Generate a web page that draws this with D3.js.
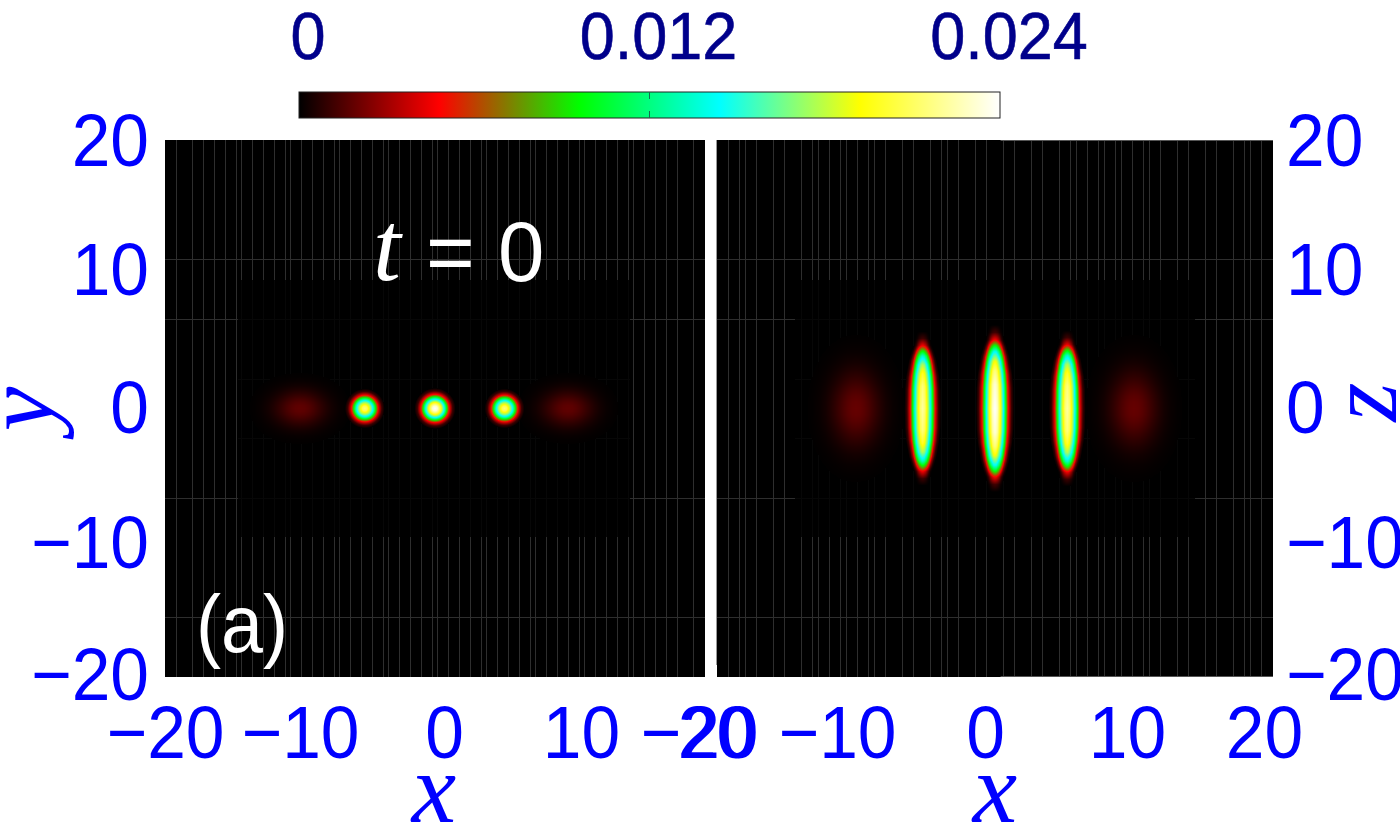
<!DOCTYPE html>
<html><head><meta charset="utf-8">
<script src="https://cdn.jsdelivr.net/npm/d3@7/dist/d3.min.js"></script>
<style>html,body{margin:0;padding:0;background:#fff;overflow:hidden}svg{display:block}</style>
</head><body><svg id="c" width="1400" height="839" font-family="'Liberation Sans',Arial,sans-serif"></svg>
<script>
// colour bar
const colorDomain = [0, 0.0048, 0.0096, 0.0144, 0.0192, 0.024];
const colorRange = ["#000000", "#ff0000", "#00ff00", "#00ffff", "#ffff00", "#ffffff"];
const colorTicks = [0, 0.012, 0.024];
const colorTickLabels = ["0", "0.012", "0.024"];
// axes
const axisTicks = [-20, -10, 0, 10, 20];
// density, x-y plane
const spotXa = [-10, -5.2, 0, 5.15, 9.85];
const spotAmpA = [0.0018, 0.0215, 0.024, 0.0215, 0.0018];
const spotSxA = [1.3, 0.6, 0.62, 0.6, 1.3];
const spotSyA = [0.92, 0.6, 0.62, 0.6, 0.92];
const spotCoreA = [false, true, true, true, false];
// density read from the x-z plane
const spotXb = [-10, -5.2, 0, 5.2, 10];
const spotAmpB = [0.0019, 0.0222, 0.024, 0.0222, 0.0019];
const spotSxB = [1.2, 0.54, 0.56, 0.54, 1.2];
const spotSzB = [1.9, 4.7, 5.1, 4.75, 1.9];
const spotCoreB = [false, true, true, true, false];
// relative density against distance (in widths)
const roundDist = [0, 0.25, 0.5, 0.75, 1, 1.25, 1.5, 1.8, 2.2, 2.6, 3.1];
const roundRel = [1, 0.97, 0.88, 0.75, 0.6, 0.46, 0.33, 0.2, 0.09, 0.035, 0];
const coreDist = [0, 0.3, 0.74, 1.1, 1.4, 1.7, 2.1, 2.45];
const coreRel = [1, 0.96, 0.8, 0.6, 0.4, 0.2, 0.05, 0];
const flatDist = [0, 0.35, 0.55, 0.69, 0.83, 0.92, 1, 1.11, 1.22];
const flatRel = [1, 0.97, 0.9, 0.8, 0.6, 0.4, 0.2, 0.05, 0];
// how the spots narrow along z
const taperDist = [0, 0.3, 0.5, 0.76, 0.9, 1, 1.25];
const taperRel = [1, 0.98, 0.92, 0.76, 0.62, 0.5, 0.35];
// faint rendering seams
const seamXa = [-19.19,-18,-17.19,-16.37,-15.56,-14.74,-14.37,-13.56,-12.74,-11.93,-11.11,-10.74,-9.93,-9.11,-8.3,-7.48,-7.11,-6.3,-5.48,-4.67,-3.85,-3.48,-2.67,-1.85,-1.04,-0.22,0.15,0.96,1.78,2.59,3.41,3.78,4.59,5.41,6.22,7.04,7.41,8.22,9.04,9.85,10.67,11.04,11.85,12.67,13.48,14.3,14.67,15.48,16.3,17.11,17.93,19.11];
const seamXb = [-19.21,-18.42,-17.99,-17.19,-15.97,-15.18,-13.96,-13.17,-12.73,-11.94,-11.15,-10.72,-9.93,-9.14,-8.71,-7.91,-6.69,-5.9,-4.68,-3.88,-3.45,-2.66,-1.44,-0.65,0.58,1.37,2.59,3.38,4.6,5.4,5.83,6.62,7.41,7.84,8.63,9.06,9.86,10.65,11.08,11.87,13.09,13.88,15.11,15.9,17.12,17.91,18.35,19.14];
const seamY = [11.13, 6.66, 2.2, -2.2, -6.66, -15.53];
const innerA = [-14.6, 14.44, -9.57, 9.57];
const innerB = [-14.39, 14.39, -9.57, 9.57];

const svg = d3.select("#c");
const BLUE = "#0000ff", NAVY = "#00008b", SX = 0.94;
const color = d3.scaleLinear().domain(colorDomain).range(colorRange).clamp(true);
const round = d3.scaleLinear().domain(roundDist).range(roundRel).clamp(true);
const core = d3.scaleLinear().domain(coreDist).range(coreRel).clamp(true);
const flat = d3.scaleLinear().domain(flatDist).range(flatRel).clamp(true);
const taper = d3.scaleLinear().domain(taperDist).range(taperRel).clamp(true);

const xA = d3.scaleLinear().domain([-20, 20]).range([165, 705]);
const xB = d3.scaleLinear().domain([-20, 20]).range([717, 1273]);
const yS = d3.scaleLinear().domain([-20, 20]).range([677, 140]);

const defs = svg.append("defs");

function panel(id, x, seams, inner, field) {
  const g = svg.append("g");
  const [x0, x1] = x.range(), [y0, y1] = [yS(20), yS(-20)];
  g.append("rect").attr("x", x0).attr("y", y0).attr("width", x1 - x0).attr("height", y1 - y0).attr("fill", "#000");
  const lines = (sel, col) => {
    sel.selectAll("line.v").data(seams).join("line").attr("class", "v")
      .attr("x1", d => Math.round(x(d)) + .5).attr("x2", d => Math.round(x(d)) + .5)
      .attr("y1", y0).attr("y2", y1).attr("stroke", col);
    sel.selectAll("line.h").data(seamY).join("line").attr("class", "h")
      .attr("y1", d => Math.round(yS(d)) + .5).attr("y2", d => Math.round(yS(d)) + .5)
      .attr("x1", x0).attr("x2", x1).attr("stroke", col);
  };
  const outer = g.append("g");
  lines(outer, "#2e2e2e");
  outer.selectAll("line.h").filter(d => Math.abs(d) < 3).remove();
  const ix0 = x(inner[0]), ix1 = x(inner[1]), iy0 = yS(inner[3]), iy1 = yS(inner[2]);
  g.append("rect").attr("x", ix0).attr("y", iy0).attr("width", ix1 - ix0).attr("height", iy1 - iy0).attr("fill", "#000");
  defs.append("clipPath").attr("id", id).append("rect").attr("x", ix0).attr("y", iy0).attr("width", ix1 - ix0).attr("height", iy1 - iy0);
  lines(g.append("g").attr("clip-path", `url(#${id})`), "#070707");

  // density field
  const w = x1 - x0, h = y1 - y0;
  const cv = document.createElement("canvas"); cv.width = w; cv.height = h;
  const ctx = cv.getContext("2d"), img = ctx.createImageData(w, h);
  for (let j = 0; j < h; j++) {
    const yv = yS.invert(y0 + j + .5);
    for (let i = 0; i < w; i++) {
      const v = field(x.invert(x0 + i + .5), yv);
      if (v < 0.00003) continue;
      const c = d3.rgb(color(v)), k = (j * w + i) * 4;
      img.data[k] = c.r; img.data[k + 1] = c.g; img.data[k + 2] = c.b; img.data[k + 3] = 255;
    }
  }
  ctx.putImageData(img, 0, 0);
  g.append("image").attr("x", x0).attr("y", y0).attr("width", w).attr("height", h).attr("href", cv.toDataURL());
}

panel("innerA", xA, seamXa, innerA, (x, y) => {
  let v = 0;
  spotXa.forEach((c, i) => {
    const dx = (x - c) / spotSxA[i], dy = y / spotSyA[i];
    v += spotCoreA[i]
      ? spotAmpA[i] * core(Math.hypot(dx, dy))
      : spotAmpA[i] * round(Math.abs(dx)) * round(Math.abs(dy));
  });
  return v;
});
panel("innerB", xB, seamXb, innerB, (x, z) => {
  let v = 0;
  spotXb.forEach((c, i) => {
    const t = Math.abs(z) / spotSzB[i];
    v += spotCoreB[i]
      ? spotAmpB[i] * core(Math.abs(x - c) / (spotSxB[i] * taper(t))) * flat(t)
      : spotAmpB[i] * round(Math.abs(x - c) / spotSxB[i]) * round(t);
  });
  return v;
});

// panel edges
svg.append("line").attr("x1", 716.5).attr("x2", 716.5).attr("y1", 140).attr("y2", 665).attr("stroke", "#999");
svg.append("line").attr("x1", xB(0.4)).attr("x2", 1273).attr("y1", 140.5).attr("y2", 140.5).attr("stroke", "#555");
svg.append("line").attr("x1", xB(0.4)).attr("x2", 1273).attr("y1", 676.5).attr("y2", 676.5).attr("stroke", "#555");

// text helper: the reference face is slightly condensed
function stretch(sel, x, y) {
  sel.attr("x", null).attr("y", null).attr("dy", null).attr("transform", `translate(${x},${y}) scale(${SX},1)`);
}
const fmt = d => d < 0 ? "\u2212" + Math.abs(d) : String(d);

function xAxis(x, nudge) {
  const g = svg.append("g").attr("transform", "translate(0,677)")
    .call(d3.axisBottom(x).tickValues(axisTicks).tickSize(0).tickFormat(fmt));
  g.attr("font-family", "'Liberation Sans'").attr("font-size", 74);
  g.select(".domain").remove();
  g.selectAll("text").attr("fill", BLUE)
    .attr("text-anchor", "middle").each(function (d, i) { stretch(d3.select(this), nudge[i], 81); });
}
xAxis(xA, [0, 0, 9, 11, 11]);
xAxis(xB, [-18, -19, -10, -7, -9]);

function yAxis(side, x0, anchor, labelX, nudge) {
  const g = svg.append("g").attr("transform", `translate(${x0},0)`)
    .call(side(yS).tickValues(axisTicks).tickSize(0).tickFormat(fmt));
  g.attr("font-family", "'Liberation Sans'").attr("font-size", 74);
  g.select(".domain").remove();
  g.selectAll("text").attr("fill", BLUE)
    .attr("text-anchor", anchor).each(function (d, i) { stretch(d3.select(this), labelX, nudge[i] + 26); });
}
yAxis(d3.axisLeft, 165, "end", -16, [-4, -1, -2, -6, -1]);
yAxis(d3.axisRight, 1273, "start", 13, [-4, -1, -2, -6, -1]);

// colour bar
const cbar = d3.scaleLinear().domain([0, 0.024]).range([299, 1000]);
const grad = defs.append("linearGradient").attr("id", "cb");
colorDomain.forEach((d, i) => grad.append("stop").attr("offset", d / 0.024).attr("stop-color", colorRange[i]));
svg.append("rect").attr("x", cbar(0)).attr("y", 92).attr("width", cbar(0.024) - cbar(0)).attr("height", 26)
  .attr("fill", "url(#cb)").attr("stroke", "#222").attr("stroke-width", 1);
svg.append("g").selectAll("line").data([[92, 99], [111, 118]]).join("line")
  .attr("x1", cbar(0.012)).attr("x2", cbar(0.012)).attr("y1", d => d[0]).attr("y2", d => d[1])
  .attr("stroke", "#146c50").attr("stroke-width", 1);
svg.append("g").selectAll("text").data(colorTicks).join("text")
  .text((d, i) => colorTickLabels[i]).attr("font-size", 67).attr("fill", NAVY).attr("text-anchor", "middle")
  .attr("stroke", NAVY).attr("stroke-width", .6)
  .attr("transform", d => `translate(${cbar(d) + 9},59) scale(${SX},1)`);

// axis titles
const serif = "'Liberation Serif'";
function title(t, x, y, rot, col) {
  svg.append("text").text(t).attr("font-family", serif).attr("font-style", "italic").attr("font-size", 100)
    .attr("fill", col).attr("text-anchor", "middle").attr("transform", `translate(${x},${y}) rotate(${rot})`);
}
title("x", 434, 822, 0, BLUE);
title("x", 995, 822, 0, BLUE);
title("y", 53, 409, -90, BLUE);
title("z", 1396, 402, -90, BLUE);

// annotations
title("t", 387, 280, 0, "#fff");
svg.append("text").text("= 0").attr("font-size", 86).attr("fill", "#fff").attr("transform", `translate(426,281) scale(${SX + .03},1)`);
svg.append("text").text("(a)").attr("font-size", 82).attr("fill", "#fff").attr("transform", `translate(196,652) scale(${SX - .02},1)`);
</script></body></html>
